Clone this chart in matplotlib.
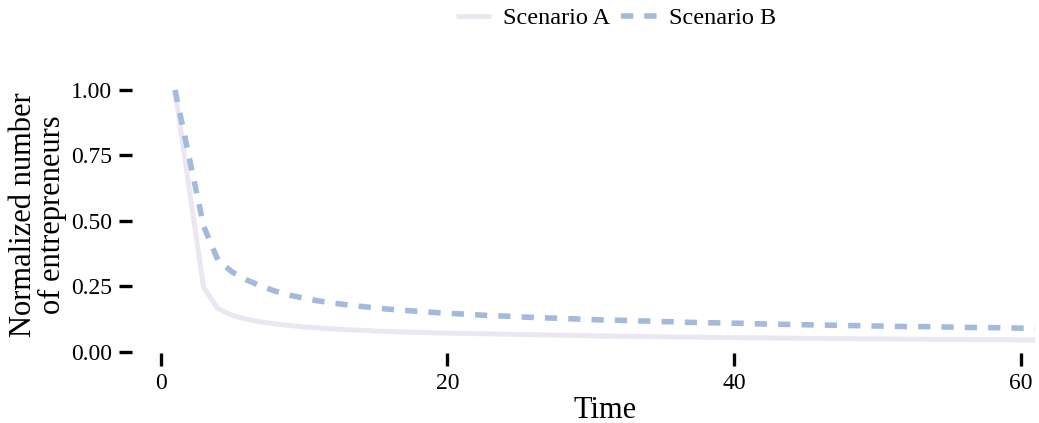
import matplotlib
matplotlib.use("Agg")
import matplotlib.pyplot as plt
import numpy as np

# time steps and normalized counts
time = np.arange(1, 62)
scenario_a = [
    1.000, 0.620, 0.245, 0.165, 0.140, 0.125, 0.115, 0.107, 0.101, 0.096,
    0.092, 0.088, 0.085, 0.083, 0.080, 0.078, 0.076, 0.075, 0.073, 0.072,
    0.071, 0.070, 0.069, 0.068, 0.067, 0.066, 0.065, 0.064, 0.063, 0.062,
    0.061, 0.060, 0.060, 0.059, 0.058, 0.057, 0.057, 0.056, 0.055, 0.055,
    0.054, 0.054, 0.053, 0.053, 0.052, 0.052, 0.051, 0.051, 0.050, 0.050,
    0.050, 0.049, 0.049, 0.048, 0.048, 0.048, 0.047, 0.047, 0.047, 0.046,
    0.046,
]
scenario_b = [
    1.000, 0.740, 0.480, 0.350, 0.305, 0.275, 0.252, 0.232, 0.217, 0.205,
    0.195, 0.187, 0.180, 0.174, 0.168, 0.163, 0.159, 0.155, 0.151, 0.148,
    0.145, 0.142, 0.139, 0.137, 0.134, 0.132, 0.130, 0.128, 0.126, 0.124,
    0.122, 0.121, 0.119, 0.118, 0.116, 0.115, 0.113, 0.112, 0.111, 0.110,
    0.109, 0.107, 0.106, 0.105, 0.104, 0.103, 0.102, 0.101, 0.100, 0.099,
    0.098, 0.097, 0.097, 0.096, 0.095, 0.094, 0.093, 0.093, 0.092, 0.091,
    0.090,
]
labels = ["Scenario A", "Scenario B"]

plt.rcParams["font.family"] = ["Liberation Serif", "DejaVu Serif"]

fig = plt.figure(figsize=(10.39, 4.23), dpi=100)
W, H = 1039, 423
ax = fig.add_axes([132 / W, (H - 353.3) / H, 946 / W, 276.4 / H])

ax.plot(time, scenario_a, color="#ebe6f2", lw=3.6, solid_capstyle="butt",
        label=labels[0])
ax.plot(time, scenario_b, color="#a3bada", lw=4.0, dashes=(2.2, 2.0),
        dash_capstyle="butt", label=labels[1])

ax.set_xlim(-2, 64)
ax.set_ylim(-0.005, 1.05)
ax.set_xticks([0, 20, 40, 60])
ax.set_yticks([0.0, 0.25, 0.5, 0.75, 1.0])
ax.set_yticklabels(["0.00", "0.25", "0.50", "0.75", "1.00"])

for s in ax.spines.values():
    s.set_visible(False)
ax.tick_params(axis="both", length=9.4, width=2.4, pad=5, labelsize=17,
               color="black")

ax.set_xlabel("Time", fontsize=22, labelpad=1)
ax.set_ylabel("Normalized number\nof entrepreneurs", fontsize=22,
              labelpad=3, linespacing=1.0)

fig.legend(loc="upper center", bbox_to_anchor=(616 / W, 1.035), ncol=2,
           frameon=False, fontsize=17.5, handlelength=1.45, handletextpad=0.5,
           columnspacing=0.45)

fig.savefig("out.png", dpi=100)
